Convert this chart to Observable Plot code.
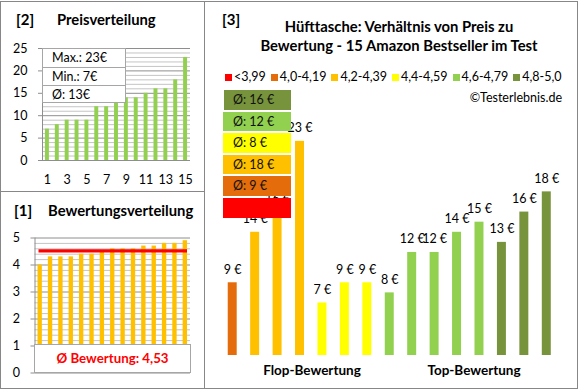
<!DOCTYPE html>
<html><head><meta charset="utf-8">
<script src="https://cdn.jsdelivr.net/npm/d3@7"></script>
<script src="https://cdn.jsdelivr.net/npm/@observablehq/plot@0.6"></script>
<style>
body{margin:0;background:#fff;font-family:Lato,sans-serif;color:#000;}
#root{position:relative;width:580px;height:390px;overflow:hidden;}
#root svg{position:absolute;}
.abs{position:absolute;white-space:nowrap;}
</style></head><body><div id="root"></div>
<script>
// ---- data ----
const prices  = [9, 14, 16, 23, 7, 9, 9, 8, 12, 12, 14, 15, 13, 16, 18];
const ratings = [4.0, 4.3, 4.3, 4.3, 4.4, 4.4, 4.5, 4.6, 4.6, 4.6, 4.7, 4.7, 4.8, 4.8, 4.9];
const categories = ["<3,99", "4,0-4,19", "4,2-4,39", "4,4-4,59", "4,6-4,79", "4,8-5,0"];
const categoryLower = [0, 4.0, 4.2, 4.4, 4.6, 4.8];
const categoryColors = ["#FF0000", "#E46C0A", "#FFC000", "#FFFF00", "#92D050", "#77933C"];
const priceTicks = [0, 5, 10, 15, 20, 25];
const ratingTicks = [0, 1, 2, 3, 4, 5];
const rankLabels = [1, 3, 5, 7, 9, 11, 13, 15];
const groupLabels = ["Flop-Bewertung", "Top-Bewertung"];
const titleLines = ["Hüfttasche: Verhältnis von Preis zu", "Bewertung - 15 Amazon Bestseller im Test"];

const root = document.getElementById("root");
const FONT = "Lato, sans-serif";
function el(style, text) {
  const e = document.createElement("div");
  e.className = "abs";
  Object.assign(e.style, style);
  if (text != null) e.textContent = text;
  root.appendChild(e);
  return e;
}
function put(svg, left, top) { svg.style.left = left + "px"; svg.style.top = top + "px"; root.appendChild(svg); }

const catOf = r => { let c = 0; categoryLower.forEach((l, i) => { if (r >= l && i > 0) c = i; }); return r < 4.0 ? 0 : c; };
const products = prices.map((p, i) => ({ idx: i + 1, price: p, rating: ratings[i], cat: catOf(ratings[i]) }));

// ---- Panel [2] Preisverteilung ----
const sortedPrices = prices.slice().sort((a, b) => a - b);
const dataA = sortedPrices.map((p, i) => ({ rank: i + 1, price: p }));
const plotA = Plot.plot({
  width: 204, height: 190, marginLeft: 42, marginRight: 14, marginTop: 47, marginBottom: 31,
  style: { fontFamily: FONT, fontSize: "12.5px", color: "#000", background: "transparent", overflow: "visible" },
  x: { domain: [0.5, 15.5], axis: null },
  y: { domain: [0, 25], axis: null },
  marks: [
    Plot.ruleY(d3.range(0, 26).filter(v => v % 5 !== 0), { stroke: "#c4c4c4" }),
    Plot.ruleY(priceTicks, { stroke: "#8e8e8e" }),
    Plot.rectY(dataA, { x1: d => d.rank - 0.2, x2: d => d.rank + 0.2, y: "price", fill: "#92D050" }),
    Plot.ruleX([0.5], { stroke: "#8e8e8e" }),
    Plot.axisY({ ticks: priceTicks, tickSize: 4, tickPadding: 11, stroke: "#8e8e8e", fill: "#000", label: null, tickFormat: d3.format("d") }),
    Plot.axisX({ ticks: rankLabels, tickSize: 0, tickPadding: 15, fill: "#000", label: null, tickFormat: d3.format("d") })
  ]
});
put(plotA, 0, 1);
el({ left: "16px", top: "9px", fontFamily: FONT, fontWeight: "bold", fontSize: "15px", lineHeight: "20px" }, "[2]");
el({ left: "57px", top: "9px", fontFamily: FONT, fontWeight: "bold", fontSize: "14.8px", lineHeight: "20px" }, "Preisverteilung");
const statRows = ["Max.: " + d3.max(prices) + "€", "Min.: " + d3.min(prices) + "€", "Ø: " + Math.round(d3.mean(prices)) + "€"];
const statBox = el({ left: "42px", top: "48px", width: "84px", height: "55px", background: "#fff", border: "1px solid #a6a6a6", boxSizing: "border-box" });
statRows.forEach((t, i) => {
  const r = document.createElement("div");
  Object.assign(r.style, { height: "18px", lineHeight: "18px", paddingLeft: "9px", fontFamily: FONT, fontSize: "12.5px",
    borderTop: i ? "1px solid #a6a6a6" : "none", boxSizing: "border-box" });
  r.textContent = t;
  statBox.appendChild(r);
});

// ---- Panel [1] Bewertungsverteilung ----
const sortedRatings = ratings.slice().sort((a, b) => a - b);
const dataB = sortedRatings.map((r, i) => ({ rank: i + 1, rating: r }));
const avgRating = d3.mean(ratings);
const plotB = Plot.plot({
  width: 204, height: 196, marginLeft: 34.5, marginRight: 14, marginTop: 46.5, marginBottom: 14.5,
  style: { fontFamily: FONT, fontSize: "12.5px", color: "#000", background: "transparent", overflow: "visible" },
  x: { domain: [0.5, 15.5], axis: null },
  y: { domain: [0, 5], axis: null },
  marks: [
    Plot.ruleY(d3.range(0, 26).filter(v => v % 5 !== 0).map(v => v / 5), { stroke: "#c4c4c4" }),
    Plot.ruleY(ratingTicks, { stroke: "#8e8e8e" }),
    Plot.rectY(dataB, { x1: d => d.rank - 0.21, x2: d => d.rank + 0.21, y: "rating", fill: "#FFC000" }),
    Plot.ruleY([avgRating], { stroke: "#FF0000", strokeWidth: 3.2, insetLeft: 4, insetRight: 3 }),
    Plot.ruleX([0.5], { stroke: "#8e8e8e" }),
    Plot.axisY({ ticks: ratingTicks, tickSize: 4, tickPadding: 11, stroke: "#8e8e8e", fill: "#000", label: null, tickFormat: d3.format("d") })
  ]
});
put(plotB, 0, 191);
el({ left: "14px", top: "200px", fontFamily: FONT, fontWeight: "bold", fontSize: "15px", lineHeight: "20px" }, "[1]");
el({ left: "48px", top: "200px", fontFamily: FONT, fontWeight: "bold", fontSize: "14.8px", lineHeight: "20px" }, "Bewertungsverteilung");
el({ left: "34px", top: "344px", width: "157px", height: "29px", background: "#fff", border: "1px solid #a6a6a6", boxSizing: "border-box",
  textAlign: "center", lineHeight: "27px", fontFamily: FONT, fontWeight: "bold", fontSize: "13.3px", color: "#FF0000" },
  "Ø Bewertung: " + avgRating.toFixed(2).replace(".", ","));

// ---- Panel [3] Preis zu Bewertung ----
const yMin = 1.8;
const plotC = Plot.plot({
  width: 373, height: 388, marginLeft: 16, marginRight: 20.5, marginTop: 100, marginBottom: 33,
  style: { fontFamily: FONT, fontSize: "12.5px", color: "#000", background: "transparent", overflow: "visible" },
  x: { domain: [0.5, 15.5], axis: null },
  y: { domain: [yMin, yMin + 255 / 10.1], axis: null },
  marks: [
    Plot.rectY(products, { x1: d => d.idx - 0.2, x2: d => d.idx + 0.2, y1: () => yMin, y2: "price",
      fill: d => categoryColors[d.cat] }),
    Plot.text(products, { x: "idx", y: "price", text: d => d.price + " €", dy: -13, fill: "#000" })
  ],
  color: { type: "identity" }
});
put(plotC, 205, 0);

el({ left: "222px", top: "9px", fontFamily: FONT, fontWeight: "bold", fontSize: "15px", lineHeight: "20px" }, "[3]");
titleLines.forEach((t, i) => {
  el({ left: "249px", width: "300px", top: (16 + i * 19) + "px", textAlign: "center", fontFamily: FONT, fontWeight: "bold",
    fontSize: "14.8px", lineHeight: "20px" }, t);
});
const legend = el({ left: "225px", top: "69px", display: "flex", alignItems: "center", gap: "5px", fontFamily: FONT, fontSize: "12.5px", lineHeight: "16px" });
categories.forEach((c, i) => {
  const item = document.createElement("div");
  Object.assign(item.style, { display: "flex", alignItems: "center", gap: "2px" });
  const sw = document.createElement("div");
  Object.assign(sw.style, { width: "7px", height: "7px", background: categoryColors[i] });
  const tx = document.createElement("span");
  tx.textContent = c;
  item.appendChild(sw); item.appendChild(tx);
  legend.appendChild(item);
});
el({ right: (580 - 562) + "px", top: "89px", fontFamily: FONT, fontSize: "12.5px", lineHeight: "18px" }, "©Testerlebnis.de");

// average price per rating category, boxes from best (top) to worst (bottom)
const catAvg = categories.map((c, i) => {
  const ps = products.filter(d => d.cat === i).map(d => d.price);
  return ps.length ? Math.round(d3.mean(ps)) : null;
});
const boxOrder = d3.range(categories.length).reverse();
boxOrder.forEach((ci, k) => {
  el({ left: (ci === 5 ? 224 : 223) + "px", top: (90 + k * 21.6) + "px", width: (ci === 5 ? 67 : 68) + "px", height: "19.5px",
    background: categoryColors[ci], fontFamily: FONT, fontSize: "12.5px", lineHeight: "19.5px", paddingLeft: (ci === 5 ? 9 : 10) + "px",
    boxSizing: "border-box", color: "#111" }, catAvg[ci] == null ? "" : "Ø: " + catAvg[ci] + " €");
});
[[312, groupLabels[0]], [474, groupLabels[1]]].forEach(([cx, t]) => {
  el({ left: (cx - 70) + "px", width: "140px", top: "360px", textAlign: "center", fontFamily: FONT, fontWeight: "bold",
    fontSize: "13.5px", lineHeight: "20px" }, t);
});

// ---- panel borders ----
el({ left: "0px", top: "1px", width: "578px", height: "388px", border: "1px solid #878787", boxSizing: "border-box" });
el({ left: "204px", top: "1px", width: "1px", height: "388px", background: "#878787" });
el({ left: "0px", top: "191px", width: "205px", height: "1px", background: "#878787" });
</script></body></html>
